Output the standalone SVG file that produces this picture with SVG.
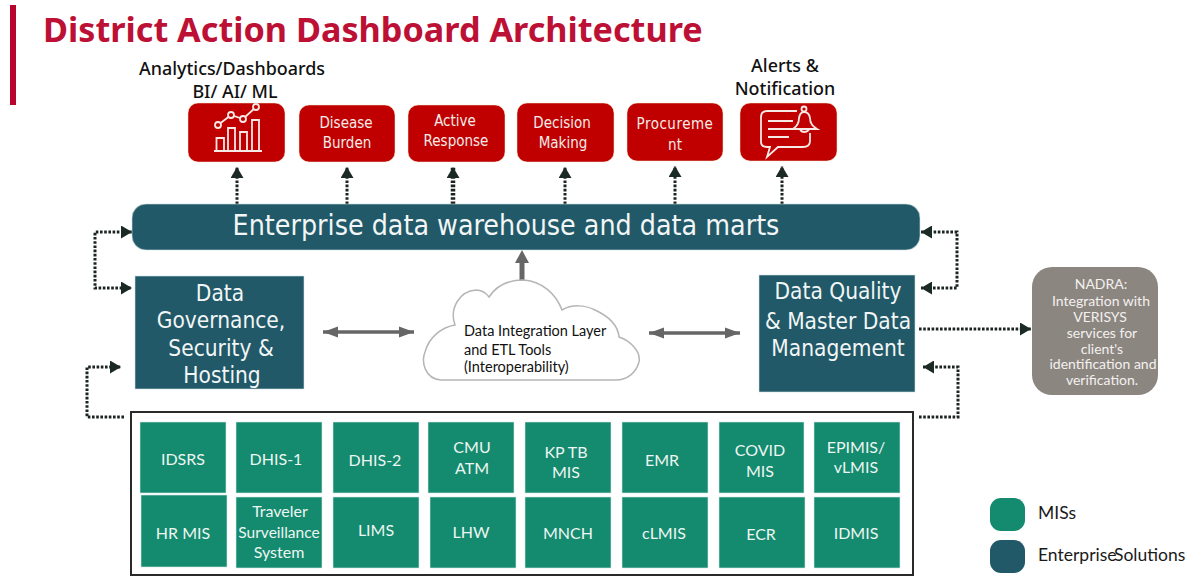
<svg xmlns="http://www.w3.org/2000/svg" width="1188" height="576" viewBox="0 0 1188 576">
<style>
text{font-family:"DejaVu Sans Condensed","DejaVu Sans","Liberation Sans",sans-serif;font-stretch:condensed;text-anchor:middle}
.title{font-family:"Noto Sans","Liberation Sans",sans-serif;font-stretch:normal;font-size:34.2px;font-weight:700;fill:#bd1035;text-anchor:start}
.head{font-family:"Noto Sans","Liberation Sans",sans-serif;font-stretch:normal;font-size:17.9px;font-weight:500;fill:#111}
.red{fill:#c00000;stroke:#eec;stroke-width:.5}
.rt{font-size:15px;fill:#f3ece8}
.teal{fill:#215968;stroke:#cfe0e0;stroke-width:.6}
.tt{font-size:22.5px;fill:#f2f6f6}
.cell{fill:#148a6f;stroke:#d5ebe4;stroke-width:.6}
.ct{font-family:Lato,"Noto Sans",sans-serif;font-size:16px;fill:#edf6f2}
.cloudt{font-family:Lato,"Noto Sans",sans-serif;font-size:14.5px;fill:#111;text-anchor:start}
.nt{font-family:Lato,"Noto Sans",sans-serif;font-size:14px;fill:#f3f1ef}
.lg{font-family:Lato,"Noto Sans",sans-serif;font-size:17.5px;fill:#1a1a1a;text-anchor:start}
.dot{fill:none;stroke:#1c2420;stroke-width:3;stroke-dasharray:2.6 1.6}
.gr{fill:none;stroke:#666;stroke-width:3.5}
.ic{fill:none;stroke:#f7e9e6;stroke-width:1.8}
</style>
<defs>
<marker id="dk" markerUnits="userSpaceOnUse" markerWidth="13" markerHeight="13" refX="11" refY="6.5" orient="auto-start-reverse"><path d="M0 0L11 6.5L0 13Z" fill="#1c2a24"/></marker>
<marker id="gh" markerUnits="userSpaceOnUse" markerWidth="16" markerHeight="14" refX="15" refY="7" orient="auto-start-reverse"><path d="M0 1.500L15 7L0 12.500Z" fill="#666"/></marker>
</defs>
<rect x="10" y="5" width="6" height="100" fill="#b8052f"/>
<text class="title" x="43" y="42">District Action Dashboard Architecture</text>
<g id="connectors">
<path class="dot" marker-end="url(#dk)" d="M237 204V167"/>
<path class="dot" marker-end="url(#dk)" d="M347 204V167"/>
<path class="dot" style="stroke-width:4.500" marker-end="url(#dk)" d="M453 204V167"/>
<path class="dot" marker-end="url(#dk)" d="M565 204V167"/>
<path class="dot" marker-end="url(#dk)" d="M675 204V166"/>
<path class="dot" marker-end="url(#dk)" d="M782 204V166"/>
<path class="dot" marker-start="url(#dk)" marker-end="url(#dk)" d="M132 232H95V288H132"/>
<path class="dot" marker-end="url(#dk)" d="M124 417H87V367H121"/>
<path class="dot" marker-start="url(#dk)" marker-end="url(#dk)" d="M921 232H957V288H921"/>
<path class="dot" marker-end="url(#dk)" d="M919 329H1031"/>
<path class="dot" marker-end="url(#dk)" d="M919 417H958V367H923"/>
<path class="gr" marker-start="url(#gh)" marker-end="url(#gh)" d="M323 332H414"/>
<path class="gr" marker-start="url(#gh)" marker-end="url(#gh)" d="M649 333H740"/>
<path d="M522 280V262" stroke="#666" stroke-width="5" fill="none"/>
<path d="M515 263L522 250L529 263Z" fill="#666"/>
</g>
<g id="analytics"><text class="head" x="232" y="75">Analytics/Dashboards</text><text class="head" x="235" y="98">BI/ AI/ ML</text>
<rect class="red" x="188" y="103" width="97" height="59" rx="10"/>
<path class="ic" d="M218 125L231 115L243 119L256 107M214 151H262M216.500 151V138H224V151M228 151V128H235V151M240 151V132H247V151M252 151V120H259V151"/>
<g class="ic" style="fill:#c00000"><circle cx="218" cy="125" r="3"/><circle cx="231" cy="115" r="3"/><circle cx="243" cy="119" r="3"/><circle cx="256" cy="107" r="3"/></g></g>
<g id="disease"><rect class="red" x="299" y="105" width="96" height="57" rx="10"/><text class="rt" x="346" y="128">Disease</text><text class="rt" x="347" y="148">Burden</text></g>
<g id="active"><rect class="red" x="408" y="105" width="97" height="57" rx="10"/><text class="rt" x="455" y="126">Active</text><text class="rt" x="456" y="146">Response</text></g>
<g id="decision"><rect class="red" x="517" y="103" width="97" height="59" rx="10"/><text class="rt" x="562" y="128">Decision</text><text class="rt" x="563" y="148">Making</text></g>
<g id="procurement"><rect class="red" x="627" y="103" width="96" height="58" rx="10"/><text class="rt" x="675" y="129" style="letter-spacing:.5px">Procureme</text><text class="rt" x="675" y="150">nt</text></g>
<g id="alerts"><text class="head" x="785" y="72">Alerts &amp;</text><text class="head" x="785" y="95">Notification</text>
<rect class="red" x="740" y="103" width="97" height="58" rx="10"/>
<path class="ic" d="M797 111H767Q761 111 761 117V142Q761 147 767 147H770L767 157L778 147H803Q810 147 810 141V133M768 121H793M768 129H793M768 137H789M793 129Q799 125 799 118Q800 112 804 112Q809 112 810 118Q810 125 817 129ZM800 130Q804 134 809 130"/><circle class="ic" cx="804" cy="109" r="2.500"/></g>
<g id="warehouse"><rect class="teal" x="132" y="204" width="788" height="46" rx="14"/><text x="506" y="235" style="font-size:28.300px;fill:#f2f6f6">Enterprise data warehouse and data marts</text></g>
<g id="governance"><rect class="teal" x="135" y="276" width="169" height="113"/><text class="tt" x="220" y="301">Data</text><text class="tt" x="221" y="328">Governance,</text><text class="tt" x="221" y="356">Security &amp;</text><text class="tt" x="222" y="383">Hosting</text></g>
<g id="quality"><rect class="teal" x="759" y="275" width="156" height="117"/><text class="tt" x="838" y="299">Data Quality</text><text class="tt" x="838" y="329">&amp; Master Data</text><text class="tt" x="838" y="356">Management</text></g>
<g id="cloud"><path d="M441 380C425 379 421 362 425 352C429 337 442 327 455 325C449 308 460 291 476 290C481 290 486 293 489 297C497 285 510 280 523 280C542 281 556 294 562 310C572 304 585 305 595 310C608 316 618 325 619 337C631 341 641 352 639 362C636 373 627 380 616 380Z" fill="#fff" stroke="#b5b5b5" stroke-width="1.500"/><text class="cloudt" x="464" y="336">Data Integration Layer</text><text class="cloudt" x="464" y="355">and ETL Tools</text><text class="cloudt" x="464" y="372">(Interoperability)</text></g>
<g id="nadra"><rect x="1032" y="267" width="126" height="128" rx="20" fill="#8c8681"/><text class="nt" x="1101" y="289">NADRA:</text><text class="nt" x="1101" y="306">Integration with</text><text class="nt" x="1100" y="322">VERISYS</text><text class="nt" x="1102" y="338">services for</text><text class="nt" x="1102" y="354">client's</text><text class="nt" x="1103" y="369">identification and</text><text class="nt" x="1102" y="385">verification.</text></g>
<g id="mis-frame"><rect x="131" y="412" width="782" height="163" fill="#fff" stroke="#2a2a2a" stroke-width="2"/></g>
<g id="idsrs"><rect class="cell" x="140" y="422" width="86" height="71"/><text class="ct" x="183" y="465">IDSRS</text></g>
<g id="dhis1"><rect class="cell" x="236" y="422" width="86" height="71"/><text class="ct" x="276" y="465">DHIS-1</text></g>
<g id="dhis2"><rect class="cell" x="333" y="422" width="86" height="71"/><text class="ct" x="375" y="466">DHIS-2</text></g>
<g id="cmu"><rect class="cell" x="428" y="422" width="86" height="71"/><text class="ct" x="472" y="453">CMU</text><text class="ct" x="472" y="474">ATM</text></g>
<g id="kptb"><rect class="cell" x="525" y="422" width="86" height="71"/><text class="ct" x="566" y="458">KP TB</text><text class="ct" x="566" y="478">MIS</text></g>
<g id="emr"><rect class="cell" x="622" y="422" width="86" height="71"/><text class="ct" x="662" y="466">EMR</text></g>
<g id="covid"><rect class="cell" x="719" y="422" width="85" height="71"/><text class="ct" x="760" y="456">COVID</text><text class="ct" x="760" y="477">MIS</text></g>
<g id="epimis"><rect class="cell" x="814" y="422" width="86" height="71"/><text class="ct" x="856" y="453">EPIMIS/</text><text class="ct" x="856" y="473">vLMIS</text></g>
<g id="hrmis"><rect class="cell" x="141" y="495" width="86" height="72"/><text class="ct" x="183" y="539">HR MIS</text></g>
<g id="traveler"><rect class="cell" x="236" y="497" width="86" height="71"/><text class="ct" x="280" y="517">Traveler</text><text class="ct" x="279" y="538" style="font-size:15.5px">Surveillance</text><text class="ct" x="279" y="558">System</text></g>
<g id="lims"><rect class="cell" x="333" y="497" width="86" height="71"/><text class="ct" x="376" y="536">LIMS</text></g>
<g id="lhw"><rect class="cell" x="430" y="497" width="86" height="71"/><text class="ct" x="471" y="538">LHW</text></g>
<g id="mnch"><rect class="cell" x="525" y="497" width="86" height="71"/><text class="ct" x="568" y="539">MNCH</text></g>
<g id="clmis"><rect class="cell" x="622" y="497" width="86" height="71"/><text class="ct" x="664" y="539">cLMIS</text></g>
<g id="ecr"><rect class="cell" x="719" y="497" width="86" height="71"/><text class="ct" x="761" y="540">ECR</text></g>
<g id="idmis"><rect class="cell" x="814" y="497" width="86" height="71"/><text class="ct" x="856" y="539">IDMIS</text></g>
<g id="legend-mis"><rect x="990" y="498" width="35" height="33" rx="11" fill="#148a6f"/><text class="lg" x="1038" y="519">MISs</text></g>
<g id="legend-enterprise"><rect x="990" y="540" width="35" height="33" rx="11" fill="#215968"/><text class="lg" x="1038" y="561">Enterprise</text><text class="lg" x="1114" y="561">Solutions</text></g>
</svg>
